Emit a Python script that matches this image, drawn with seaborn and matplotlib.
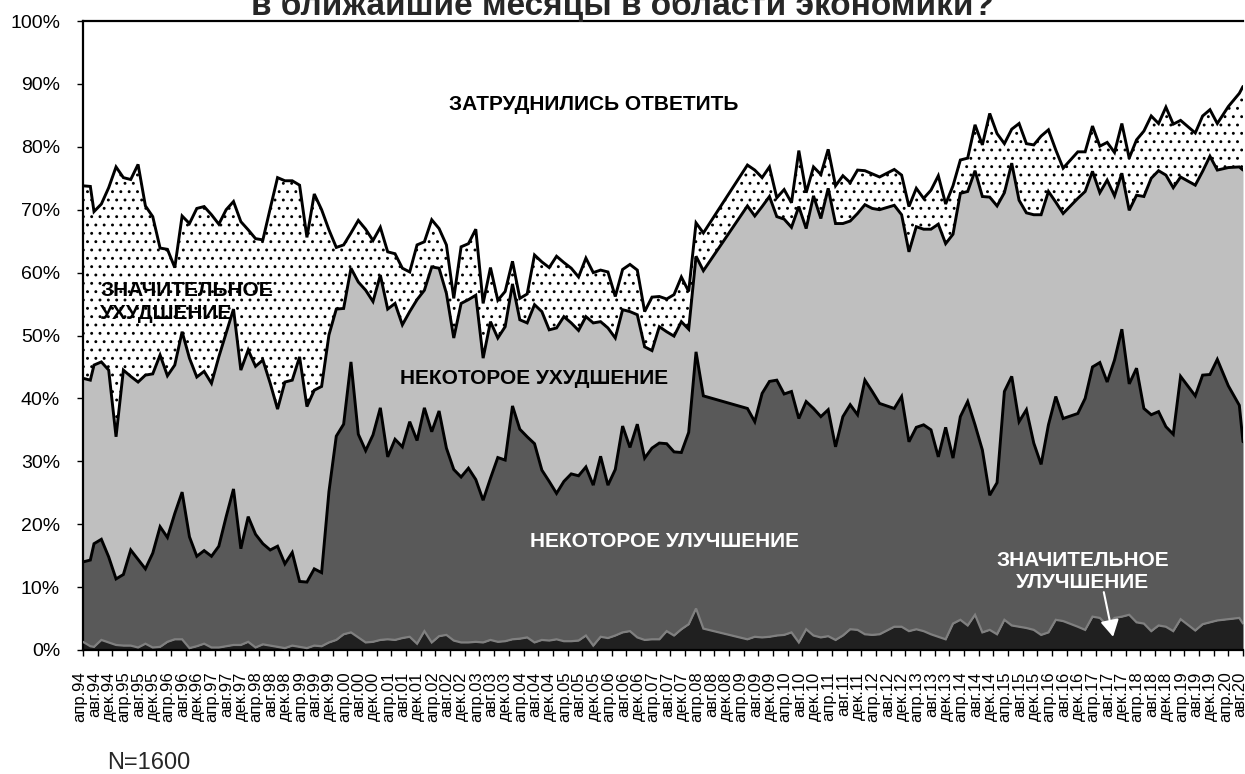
# levada_economy_expectations.py

import numpy as np
import pandas as pd
import matplotlib
matplotlib.use("Agg")
import matplotlib.pyplot as plt
import matplotlib.transforms as mtransforms
import seaborn as sns

sns.set_theme(style="ticks")
plt.rcParams['font.family'] = ['Liberation Sans', 'DejaVu Sans']
plt.rcParams['hatch.linewidth'] = 0.9

# ------------------------
# 1. Data (share of answers, %)
# ------------------------
# survey month, counted in months since April 1994
survey_month = [
    0, 2, 3, 5, 7, 9, 11, 13, 15, 17, 19, 21, 23, 25, 27, 29, 31, 33, 35, 37,
    39, 41, 43, 45, 47, 49, 51, 53, 55, 57, 59, 61, 63, 65, 67, 69, 71, 73, 75,
    77, 79, 81, 83, 85, 87, 89, 91, 93, 95, 97, 99, 101, 103, 105, 107, 109,
    111, 113,
    115, 117, 119, 121, 123, 125, 127, 129, 131, 133, 135, 137, 139, 141, 143,
    145, 147, 149, 151, 153, 155, 157, 159, 161, 163, 165, 167, 169,
    181, 183, 185, 187, 189, 191, 193, 195, 197, 199, 201, 203, 205, 207, 209,
    211, 213, 215, 217,
    221, 223, 225, 227, 229, 231, 233, 235, 237, 239, 241, 243, 245, 247, 249,
    251, 253, 255, 257, 259, 261, 263, 265, 267,
    271, 273, 275, 277, 279, 281, 283, 285, 287, 289, 291, 293, 295, 297, 299,
    303, 305, 307, 309, 312, 315, 316,
]

sig_improve = [
    1.3, 0.6, 0.5, 1.6, 1.2, 0.8, 0.7, 0.7, 0.4, 1.0, 0.4, 0.5, 1.3, 1.7, 1.7,
    0.3, 0.6, 1.0, 0.4, 0.4, 0.6, 0.8, 0.8, 1.3, 0.4, 0.9, 0.7, 0.5, 0.3, 0.7,
    0.5, 0.3, 0.7, 0.6, 1.2, 1.6, 2.5, 2.8, 2.0, 1.2, 1.3, 1.6, 1.7, 1.6, 1.9,
    2.1, 1.0, 3.0, 1.2, 2.2, 2.4, 1.5, 1.2, 1.2, 1.3, 1.2, 1.6, 1.3,
    1.4, 1.7, 1.8, 2.0, 1.2, 1.6, 1.5, 1.7, 1.4, 1.4, 1.5, 2.3, 0.7, 2.1, 1.9,
    2.3, 2.8, 3.0, 2.0, 1.6, 1.7, 1.7, 3.0, 2.3, 3.3, 4.1, 6.6, 3.4,
    1.7, 2.1, 2.0, 2.1, 2.3, 2.4, 2.8, 1.2, 3.3, 2.3, 2.0, 2.2, 1.6, 2.3, 3.3,
    3.2, 2.5, 2.4, 2.5,
    3.7, 3.7, 3.0, 3.3, 3.0, 2.5, 2.1, 1.7, 4.2, 4.8, 3.9, 5.6, 2.8, 3.2, 2.5,
    4.8, 3.9, 3.7, 3.5, 3.2, 2.4, 2.8, 4.8, 4.6, 3.7, 3.2, 5.3, 5.1, 3.9, 5.1,
    5.3, 5.6, 4.4, 4.2, 3.0, 3.9, 3.7, 3.0, 4.9, 3.1, 4.1, 4.4, 4.7, 4.9, 5.1,
    4.2,
]

some_improve = [
    12.7, 13.7, 16.4, 16.0, 13.6, 10.5, 11.3, 15.2, 14.0, 11.9, 15.0, 19.1,
    16.6, 20.0, 23.4, 17.7, 14.3, 14.8, 14.5, 16.1, 20.6, 24.8, 15.3, 19.9,
    18.0, 16.0, 15.2, 16.0, 13.4, 14.8, 10.4, 10.5, 12.2, 11.7, 24.0, 32.4,
    33.4, 43.0, 32.3, 30.5, 32.9, 36.9, 29.0, 31.9, 30.4, 34.2, 32.3, 35.5,
    33.5, 35.8, 29.7, 27.2, 26.3, 27.7, 25.8, 22.6, 25.7, 29.3,
    28.8, 37.1, 33.3, 31.9, 31.6, 27.0, 25.3, 23.2, 25.4, 26.6, 26.2, 26.8,
    25.5, 28.7, 24.3, 26.4, 32.8, 29.2, 33.9, 28.9, 30.4, 31.2, 29.8, 29.2,
    28.1, 30.5, 40.8, 37.0,
    36.7, 34.2, 38.8, 40.6, 40.6, 38.3, 38.3, 35.6, 36.2, 36.1, 35.1, 36.0,
    30.7, 34.8, 35.7, 34.2, 40.4, 38.7, 36.7,
    34.7, 36.6, 30.1, 32.1, 32.8, 32.5, 28.6, 33.7, 26.3, 32.3, 35.6, 30.2,
    29.0, 21.4, 24.1, 36.3, 39.6, 32.6, 34.7, 29.7, 27.1, 33.0, 35.5, 32.2,
    33.9, 36.8, 39.7, 40.6, 38.7, 41.0, 45.7, 36.7, 40.4, 34.2, 34.4, 34.0,
    31.8, 31.3, 38.6, 37.3, 39.6, 39.4, 41.5, 37.1, 33.8, 28.9,
]

some_worsen = [
    29.2, 28.6, 28.4, 28.2, 29.7, 22.6, 32.5, 27.6, 28.2, 30.8, 28.5, 27.3,
    25.7, 23.6, 25.5, 28.4, 28.5, 28.5, 27.5, 30.1, 29.2, 28.6, 28.4, 26.5,
    26.7, 29.2, 26.5, 21.8, 28.9, 27.4, 35.7, 27.9, 28.4, 29.6, 24.9, 20.2,
    18.4, 14.9, 24.2, 25.5, 21.2, 21.1, 23.5, 21.6, 19.4, 17.5, 22.4, 18.7,
    26.2, 22.7, 24.6, 20.9, 27.6, 26.8, 29.3, 22.6, 24.9, 19.0,
    21.2, 19.4, 17.4, 18.1, 22.1, 25.2, 24.1, 26.3, 26.2, 24.0, 23.1, 23.9,
    25.8, 21.4, 25.0, 20.9, 18.5, 21.6, 17.4, 17.7, 15.5, 18.5, 17.8, 18.4,
    20.8, 16.4, 15.2, 19.9,
    32.2, 32.7, 29.7, 29.4, 26.0, 27.8, 26.1, 33.7, 27.5, 33.8, 31.5, 35.2,
    35.5, 30.7, 29.2, 32.0, 27.9, 29.1, 30.8,
    32.3, 28.9, 30.2, 31.9, 31.1, 31.9, 37.0, 29.2, 35.6, 35.5, 33.4, 40.4,
    40.3, 47.4, 44.0, 31.6, 33.9, 35.2, 31.3, 36.3, 39.7, 37.1, 30.9, 32.6,
    34.2, 32.9, 31.1, 27.0, 32.1, 26.1, 24.8, 27.6, 27.5, 33.7, 37.6, 38.3,
    40.0, 39.2, 31.7, 33.5, 32.4, 34.7, 30.1, 34.7, 37.9, 43.2,
]

sig_worsen = [
    30.6, 30.8, 24.4, 25.1, 29.0, 42.9, 30.6, 31.3, 34.6, 26.9, 25.0, 17.0,
    20.1, 15.5, 18.4, 21.4, 26.8, 26.2, 26.8, 21.1, 19.6, 17.1, 23.6, 19.1,
    20.3, 19.1, 27.8, 36.8, 32.0, 31.7, 27.3, 26.9, 31.2, 28.1, 16.7, 9.8,
    10.1, 5.6, 9.8, 9.7, 9.7, 7.6, 9.1, 7.9, 9.0, 6.3, 8.7, 7.7, 7.5, 6.3,
    7.7, 6.3, 9.0, 8.9, 10.5, 8.7, 8.6, 6.0,
    5.6, 3.6, 3.4, 4.6, 7.9, 7.9, 9.9, 11.4, 8.6, 8.7, 8.5, 9.3, 8.0, 8.2,
    8.9, 6.6, 6.4, 7.5, 7.1, 5.6, 8.5, 4.8, 5.2, 6.6, 7.1, 6.0, 5.3, 6.0,
    6.5, 7.3, 4.6, 4.7, 3.0, 4.7, 3.9, 8.9, 5.7, 4.6, 7.0, 6.2, 6.0, 7.6,
    6.1, 6.9, 5.4, 5.5, 5.2,
    5.7, 6.3, 7.2, 6.1, 4.9, 6.2, 7.7, 6.3, 7.7, 5.3, 5.3, 7.3, 8.2, 13.3,
    11.5, 7.8, 5.4, 12.2, 11.0, 11.1, 12.5, 9.8, 8.3, 7.2, 7.4, 6.3, 7.2,
    7.4, 6.0, 6.9, 7.9, 8.3, 8.8, 10.4, 9.9, 7.5, 10.8, 10.1, 9.0, 8.3, 8.8,
    7.4, 7.4, 9.7, 11.7, 13.3,
]

# axis labels every 4 months, апр.94 ... авг.20
tick_months = ["апр", "авг", "дек"]
tick_years = list(range(1994, 2021))

# ------------------------
# 2. Prepare frame
# ------------------------
df = pd.DataFrame({
    "month": survey_month,
    "sig_improve": sig_improve,
    "some_improve": some_improve,
    "some_worsen": some_worsen,
    "sig_worsen": sig_worsen,
})
df["lvl1"] = df["sig_improve"]
df["lvl2"] = df["lvl1"] + df["some_improve"]
df["lvl3"] = df["lvl2"] + df["some_worsen"]
df["lvl4"] = df["lvl3"] + df["sig_worsen"]
df["no_answer"] = 100 - df["lvl4"]

tick_labels = [f"{m}.{y % 100:02d}" for y in tick_years for m in tick_months]
tick_labels = tick_labels[:tick_labels.index("авг.20") + 1]
tick_pos = np.arange(len(tick_labels)) * 4

# ------------------------
# 3. Plot
# ------------------------
W, H = 1245, 774
fig = plt.figure(figsize=(W / 100, H / 100), dpi=100)
ax = fig.add_axes([83 / W, 1 - 650 / H, 1160 / W, 629 / H])

x = df["month"]
ax.fill_between(x, 0, df["lvl1"], color="#202020", lw=0, zorder=1)
ax.fill_between(x, df["lvl1"], df["lvl2"], color="#595959", lw=0, zorder=1)
ax.fill_between(x, df["lvl2"], df["lvl3"], color="#bfbfbf", lw=0, zorder=1)
ax.fill_between(x, df["lvl3"], df["lvl4"], facecolor="white", edgecolor="black",
                hatch="..", lw=0, zorder=1)

line_kw = dict(ax=ax, legend=False, zorder=3)
sns.lineplot(data=df, x="month", y="lvl1", color="#808080", lw=1.6, **line_kw)
for col in ["lvl2", "lvl3", "lvl4"]:
    sns.lineplot(data=df, x="month", y=col, color="black", lw=2.1, **line_kw)
for ln in ax.lines:
    ln.set_solid_joinstyle("miter")

ax.set_xlim(0, 316)
ax.set_ylim(0, 100)
ax.set_xlabel("")
ax.set_ylabel("")

ax.set_yticks(range(0, 101, 10))
ax.set_yticklabels([f"{v}%" for v in range(0, 101, 10)], fontsize=14)
ax.set_xticks(tick_pos)
ax.set_xticklabels(tick_labels, rotation=90, fontsize=12)
ax.tick_params(axis="y", direction="out", length=4.5, width=1, pad=12, colors="black")
ax.tick_params(axis="x", direction="out", length=4.5, width=1, pad=11, colors="black")

# nudge the rotated labels a little to the left, as in the original
shift = mtransforms.ScaledTranslation(-3 / 100, 0, fig.dpi_scale_trans)
for lbl in ax.get_xticklabels():
    lbl.set_transform(lbl.get_transform() + shift)

for side in ["left", "top", "bottom"]:
    ax.spines[side].set_color("black")
    ax.spines[side].set_linewidth(1.6)
ax.spines["right"].set_visible(False)

# area captions
bold = dict(fontsize=15, fontweight="bold", transform=ax.transAxes, zorder=5)
ax.text(0.44, 0.868, "ЗАТРУДНИЛИСЬ ОТВЕТИТЬ", ha="center", va="center",
        color="black", **bold)
ax.text(0.0147, 0.553, "ЗНАЧИТЕЛЬНОЕ\nУХУДШЕНИЕ", ha="left", va="center",
        color="black", linespacing=1.25, **bold)
ax.text(0.389, 0.4324, "НЕКОТОРОЕ УХУДШЕНИЕ", ha="center", va="center",
        color="black", **bold)
ax.text(0.5017, 0.1725, "НЕКОТОРОЕ УЛУЧШЕНИЕ", ha="center", va="center",
        color="white", **bold)
ax.text(0.862, 0.1248, "ЗНАЧИТЕЛЬНОЕ\nУЛУЧШЕНИЕ", ha="center", va="center",
        color="white", linespacing=1.25, multialignment="center", **bold)
ax.annotate("", xy=(0.888, 0.021), xytext=(0.880, 0.092),
            xycoords="axes fraction", textcoords="axes fraction",
            arrowprops=dict(arrowstyle="-|>,head_length=0.5,head_width=0.28",
                            mutation_scale=20, color="white", lw=1.5,
                            shrinkA=0, shrinkB=0), zorder=5)

# the chart title runs off the top edge in the original image
fig.text(0.5, 1 - 15 / H, "в ближайшие месяцы в области экономики?",
         ha="center", va="baseline", fontsize=24, fontweight="bold")
fig.text(107 / W, 5 / H, "N=1600", ha="left", va="baseline", fontsize=17)

fig.savefig("out.png", dpi=100)
